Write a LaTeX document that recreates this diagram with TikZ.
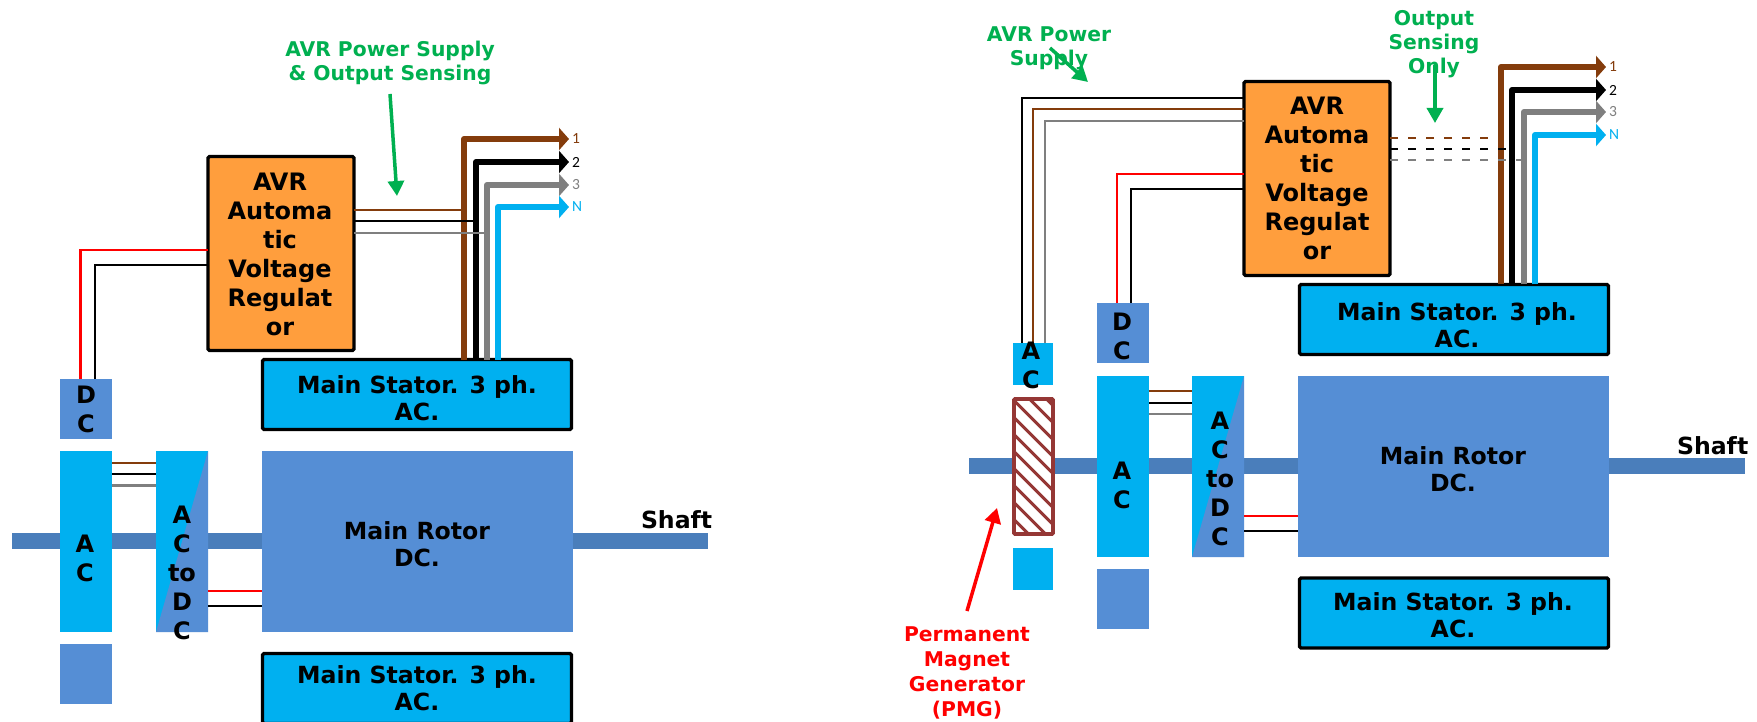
\documentclass[tikz,border=0pt]{standalone}
\usepackage{fontspec}
\setmainfont{DejaVu Sans}
\newfontfamily\carl{Carlito}
\usetikzlibrary{arrows.meta}
\definecolor{cyanb}{HTML}{00B0F0}
\definecolor{blueb}{HTML}{558ED5}
\definecolor{shaftc}{HTML}{4A7EBB}
\definecolor{orangeb}{HTML}{FF9E3D}
\definecolor{greent}{HTML}{00B050}
\definecolor{brownw}{HTML}{843C0C}
\definecolor{greyw}{HTML}{7F7F7F}
\definecolor{hatchc}{HTML}{953735}
\tikzset{
  x=1pt,y=-1pt,
  every node/.style={inner sep=0pt,outer sep=0pt},
  cyanbox/.style={fill=cyanb},
  bluebox/.style={fill=blueb},
  shaftbar/.style={fill=shaftc,minimum height=16pt},
  statorbox/.style={fill=cyanb,draw=black,line width=3.4pt,rounded corners=1.5pt,minimum width=309pt,minimum height=70pt},
  avrbox/.style={fill=orangeb,draw=black,line width=3.4pt,rounded corners=1.5pt,minimum width=146pt,minimum height=194pt},
  big/.style={font=\fontsize{23.6}{27}\selectfont\bfseries,align=center,text=black},
  tall/.style={font=\fontsize{24}{29}\selectfont\bfseries,align=center,text=black},
  note/.style={font=\fontsize{20.3}{24}\selectfont\bfseries,align=center},
  phase/.style={font=\carl\fontsize{15.5}{15.5}\selectfont,anchor=west},
  wire/.style={line width=2.8pt},
  bus/.style={line width=6pt,line join=round,-{Triangle[length=10pt,width=22pt]}},
  callout/.style={line width=3.5pt,-{Triangle[length=15pt,width=16pt]}},
  sdash/.style={line width=2.8pt,dash pattern=on 8pt off 10pt},
}
\begin{document}
\begin{tikzpicture}
\useasboundingbox (0,0) rectangle (1757,722);
\fill[white] (0,0) rectangle (1757,722);
% ---------- LEFT ----------
\node[shaftbar,minimum width=696pt] (shL) at (360,541) {};
\node[cyanbox,minimum width=52pt,minimum height=181pt] (acL) at (86,541.5) {};
\node[bluebox,minimum width=52pt,minimum height=60pt] (dcL) at (86,409) {};
\node[bluebox,minimum width=52pt,minimum height=60pt] (exL) at (86,674) {};
\node[cyanbox,minimum width=52pt,minimum height=181pt] (cvL) at (182,541.5) {};
\fill[blueb] (cvL.north east) -- (cvL.south west) -- (cvL.south east) -- cycle;
\node[bluebox,minimum width=311pt,minimum height=181pt] (roL) at (417.5,541.5) {};
\node[statorbox] (stL) at (417,394.5) {};
\node[statorbox] (sbL) at (417,688.5) {};
\node[avrbox] (avL) at (281,253.5) {};
% wires
\draw[wire,red] ([xshift=-5.5pt]dcL.north) |- (avL.west |- 0,250);
\draw[wire,black] ([xshift=9pt]dcL.north) |- (avL.west |- 0,265);
\draw[wire,brownw] (acL.east |- 0,463) -- (cvL.west |- 0,463);
\draw[wire,black] (acL.east |- 0,474) -- (cvL.west |- 0,474);
\draw[wire,greyw] (acL.east |- 0,485.5) -- (cvL.west |- 0,485.5);
\draw[wire,red] (cvL.east |- 0,591) -- (roL.west |- 0,591);
\draw[wire,black] (cvL.east |- 0,606) -- (roL.west |- 0,606);
% buses
\coordinate (e1L) at (569,139);
\coordinate (e2L) at (569,162);
\coordinate (e3L) at (569,185);
\coordinate (e4L) at (569,207);
\draw[bus,brownw] ([xshift=47pt]stL.north) |- (e1L);
\draw[wire,brownw] (avL.east |- 0,210) -- ++(110,0);
\draw[wire,black] (avL.east |- 0,221) -- ++(122,0);
\draw[bus,black] ([xshift=59pt]stL.north) |- (e2L);
\draw[wire,greyw] (avL.east |- 0,233) -- ++(133,0);
\draw[bus,greyw] ([xshift=70pt]stL.north) |- (e3L);
\draw[bus,cyanb] ([xshift=81pt]stL.north) |- (e4L);
\node[phase,text=brownw] (t1L) at ([xshift=3pt]e1L) {1};
\node[phase,text=black] (t2L) at ([xshift=3pt]e2L) {2};
\node[phase,text=greyw] (t3L) at ([xshift=3pt]e3L) {3};
\node[phase,text=cyanb] (t4L) at ([xshift=3pt]e4L) {N};
% texts
\node[tall] (lacL) at (85,558) {A\\C};
\node[tall] (ldcL) at (86,409) {D\\C};
\node[tall] (lcvL) at (182,573) {A\\C\\to\\D\\C};
\node[big] (lroL) at (417,544) {Main Rotor\\DC.};
\node[big] (lstL) at (417,398) {Main Stator. 3 ph.\\AC.};
\node[big] (lsbL) at (417,688) {Main Stator. 3 ph.\\AC.};
\node[tall] (lavL) at (280,254) {AVR\\Automa\\tic\\Voltage\\Regulat\\or};
\node[big,anchor=west] (lshL) at (641,520) {Shaft};
\node[note,text=greent] (n1L) at (390,63) {AVR Power Supply\\\& Output Sensing};
\coordinate (a1L) at (390,94);
\coordinate (a2L) at (397,196);
\draw[callout,greent] (a1L) -- (a2L);
% ---------- RIGHT ----------
\node[shaftbar,minimum width=776pt] (shR) at (1357,466) {};
\node[cyanbox,minimum width=40pt,minimum height=42pt] (acS) at (1033,364) {};
\node[cyanbox,minimum width=40pt,minimum height=42pt] (exS) at (1033,569) {};
\node[draw=hatchc,fill=white,line width=3.8pt,rounded corners=1pt,minimum width=39pt,minimum height=135pt,
  path picture={\foreach \o in {-49.5,-32.5,...,137.5}{\draw[hatchc,line width=3pt] ([yshift=-\o pt]path picture bounding box.north west) -- ++(60,60);}}] (pmg) at (1033.5,466.5) {};
\node[cyanbox,minimum width=52pt,minimum height=181pt] (acR) at (1123,466.5) {};
\node[bluebox,minimum width=52pt,minimum height=60pt] (dcR) at (1123,333) {};
\node[bluebox,minimum width=52pt,minimum height=60pt] (exR) at (1123,599) {};
\node[cyanbox,minimum width=52pt,minimum height=181pt] (cvR) at (1218,466.5) {};
\fill[blueb] (cvR.north east) -- (cvR.south west) -- (cvR.south east) -- cycle;
\node[bluebox,minimum width=311pt,minimum height=181pt] (roR) at (1453.5,466.5) {};
\node[statorbox] (stR) at (1454,319.5) {};
\node[statorbox] (sbR) at (1454,613) {};
\node[avrbox] (avR) at (1317,178.5) {};
% wires
\draw[wire,black] ([xshift=-11pt]acS.north) |- (avR.west |- 0,98);
\draw[wire,brownw] (acS.north) |- (avR.west |- 0,109);
\draw[wire,greyw] ([xshift=12pt]acS.north) |- (avR.west |- 0,121);
\draw[wire,red] ([xshift=-6pt]dcR.north) |- (avR.west |- 0,174);
\draw[wire,black] ([xshift=8pt]dcR.north) |- (avR.west |- 0,189);
\draw[wire,brownw] (acR.east |- 0,391) -- (cvR.west |- 0,391);
\draw[wire,black] (acR.east |- 0,403) -- (cvR.west |- 0,403);
\draw[wire,greyw] (acR.east |- 0,414) -- (cvR.west |- 0,414);
\draw[wire,red] (cvR.east |- 0,516) -- (roR.west |- 0,516);
\draw[wire,black] (cvR.east |- 0,531) -- (roR.west |- 0,531);
% buses
\coordinate (e1R) at (1606,67);
\coordinate (e2R) at (1606,90);
\coordinate (e3R) at (1606,112);
\coordinate (e4R) at (1606,135);
\draw[bus,brownw] ([xshift=47pt]stR.north) |- (e1R);
\draw[sdash,brownw] (avR.east |- 0,138) -- ++(109,0);
\draw[sdash,black] (avR.east |- 0,149) -- ++(120,0);
\draw[bus,black] ([xshift=58pt]stR.north) |- (e2R);
\draw[sdash,greyw] (avR.east |- 0,160) -- ++(132,0);
\draw[bus,greyw] ([xshift=70pt]stR.north) |- (e3R);
\draw[bus,cyanb] ([xshift=81pt]stR.north) |- (e4R);
\node[phase,text=brownw] (t1R) at ([xshift=3pt]e1R) {1};
\node[phase,text=black] (t2R) at ([xshift=3pt]e2R) {2};
\node[phase,text=greyw] (t3R) at ([xshift=3pt]e3R) {3};
\node[phase,text=cyanb] (t4R) at ([xshift=3pt]e4R) {N};
% texts
\node[tall] (lacS) at (1031,365) {A\\C};
\node[tall] (ldcR) at (1122,336) {D\\C};
\node[tall] (lacR) at (1122,485) {A\\C};
\node[tall] (lcvR) at (1220,479) {A\\C\\to\\D\\C};
\node[big] (lroR) at (1453,469) {Main Rotor\\DC.};
\node[big] (lstR) at (1457,325) {Main Stator. 3 ph.\\AC.};
\node[big] (lsbR) at (1453,615) {Main Stator. 3 ph.\\AC.};
\node[tall] (lavR) at (1317,178) {AVR\\Automa\\tic\\Voltage\\Regulat\\or};
\node[big,anchor=west] (lshR) at (1677,446) {Shaft};
\node[note,text=greent] (n1R) at (1049,48) {AVR Power\\Supply};
\coordinate (a1R) at (1050,48);
\coordinate (a2R) at (1088,82);
\draw[callout,greent] (a1R) -- (a2R);
\node[note,text=greent] (n2R) at (1434,44) {Output\\Sensing\\Only};
\coordinate (a3R) at (1435,65);
\coordinate (a4R) at (1435,123);
\draw[callout,greent] (a3R) -- (a4R);
\node[note,text=red] (n3R) at (967,673) {Permanent\\[1pt]Magnet\\[1pt]Generator\\[1pt](PMG)};
\coordinate (a5R) at (967,611);
\coordinate (a6R) at (997,508);
\draw[callout,red] (a5R) -- (a6R);
\end{tikzpicture}
\end{document}
